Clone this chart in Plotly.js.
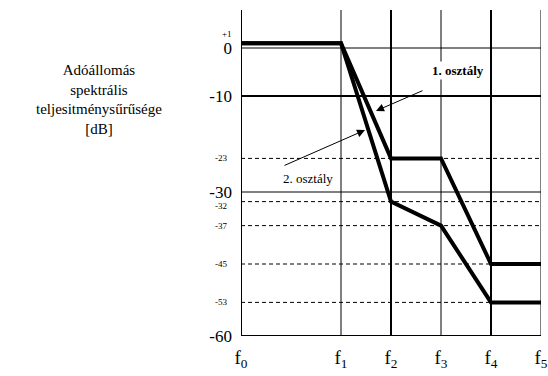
<!DOCTYPE html>
<html><head><meta charset="utf-8">
<script src="https://cdn.plot.ly/plotly-3.0.1.min.js"></script>
<style>html,body{margin:0;padding:0;background:#fff}</style>
</head><body>
<div id="chart" style="width:548px;height:376px"></div>
<script>
// frequency break points (f0..f5) on a linear position scale
const freqPos = [0, 2, 3, 4, 5, 6];
const freqLabels = ['f<sub>0</sub>', 'f<sub>1</sub>', 'f<sub>2</sub>', 'f<sub>3</sub>', 'f<sub>4</sub>', 'f<sub>5</sub>'];

// spectral mask values [dB]
const class1 = [1, 1, -23, -23, -45, -45];
const class2 = [1, 1, -32, -37, -53, -53];
const seriesNames = ['1. osztály', '2. osztály'];

// y tick labels
const yMajorVals = [0, -10, -30, -60];
const yMinorVals = [1, -23, -32, -37, -45, -53];
const yMinorText = ['+1', '-23', '-32', '-37', '-45', '-53'];

// grid levels
const solidGrid = [0, -10, -30];
const dashedGrid = [-23, -32, -37, -45, -53];

const yTitle = 'Adóállomás<br>spektrális<br>teljesitménysűrűsége<br>[dB]';

const FONT = '"Liberation Serif", "Times New Roman", serif';

const traces = [class1, class2].map((ys, i) => ({
  x: freqPos, y: ys, type: 'scatter', mode: 'lines', name: seriesNames[i],
  line: {color: '#000', width: 4}, hoverinfo: 'skip'
}));

const shapes = [];
solidGrid.forEach(v => shapes.push({type: 'line', xref: 'x', yref: 'y', x0: freqPos[0], x1: freqPos[5], y0: v, y1: v,
  line: {color: '#000', width: v === -10 ? 2 : 1}, layer: 'below'}));
dashedGrid.forEach(v => shapes.push({type: 'line', xref: 'x', yref: 'y', x0: freqPos[0], x1: freqPos[5], y0: v, y1: v,
  line: {color: '#000', width: 1, dash: '4px,3px'}, layer: 'below'}));
freqPos.forEach((p, i) => shapes.push({type: 'line', xref: 'x', yref: 'paper', x0: p, x1: p, y0: 0, y1: 1,
  line: {color: '#000', width: (i % 2 === 0) ? 2 : 1}, layer: 'below'}));
shapes.push({type: 'line', xref: 'x', yref: 'y', x0: freqPos[0], x1: freqPos[5], y0: -60, y1: -60,
  line: {color: '#000', width: 2}, layer: 'below'});

// small tick labels as annotations (slightly nudged where they would collide)
const minorAnn = yMinorVals.map((v, i) => ({
  xref: 'paper', yref: 'y', x: 0, y: v, text: yMinorText[i], showarrow: false,
  xanchor: 'right', yanchor: v === 1 ? 'bottom' : 'middle',
  xshift: v === 1 ? -7 : -12, yshift: v === 1 ? 2 : (v === -32 ? -4 : 0),
  font: {size: 9, family: FONT}
}));

const layout = {
  width: 548, height: 376,
  margin: {l: 241, r: 7, t: 10, b: 40},
  paper_bgcolor: '#fff', plot_bgcolor: '#fff',
  showlegend: false,
  font: {family: FONT, color: '#000'},
  xaxis: {range: [0, 6], tickvals: freqPos, ticktext: freqLabels, showgrid: false, zeroline: false,
    showline: false, ticks: '', tickfont: {size: 19, family: FONT}, ticklabelstandoff: 8, fixedrange: true},
  yaxis: {range: [-60, 7.92], tickvals: yMajorVals, ticktext: yMajorVals.map(String), showgrid: false, zeroline: false,
    showline: false, ticks: '', tickfont: {size: 17, family: FONT}, ticklabelstandoff: 8, fixedrange: true},
  shapes: shapes,
  annotations: minorAnn.concat([
    {xref: 'paper', yref: 'paper', x: -0.472, y: 0.725, text: yTitle, showarrow: false,
      font: {size: 15, family: FONT}, align: 'center', xanchor: 'center', yanchor: 'middle'},
    {xref: 'x', yref: 'y', x: 4.34, y: -4.6, text: '<b>' + seriesNames[0] + '</b>', showarrow: false,
      font: {size: 13, family: FONT}, bgcolor: '#fff'},
    {xref: 'x', yref: 'y', x: 1.34, y: -27.1, text: seriesNames[1], showarrow: false,
      font: {size: 13, family: FONT}, bgcolor: '#fff'},
    {xref: 'x', yref: 'y', axref: 'x', ayref: 'y', x: 2.7, y: -13.1, ax: 3.66, ay: -8.75, text: '',
      showarrow: true, arrowhead: 2, arrowsize: 1.6, arrowwidth: 1, arrowcolor: '#000', standoff: 0},
    {xref: 'x', yref: 'y', axref: 'x', ayref: 'y', x: 2.48, y: -17.1, ax: 0.84, ay: -24.6, text: '',
      showarrow: true, arrowhead: 2, arrowsize: 1.6, arrowwidth: 1, arrowcolor: '#000', standoff: 0}
  ])
};

Plotly.newPlot('chart', traces, layout, {staticPlot: true, displayModeBar: false});
</script>
</body></html>
